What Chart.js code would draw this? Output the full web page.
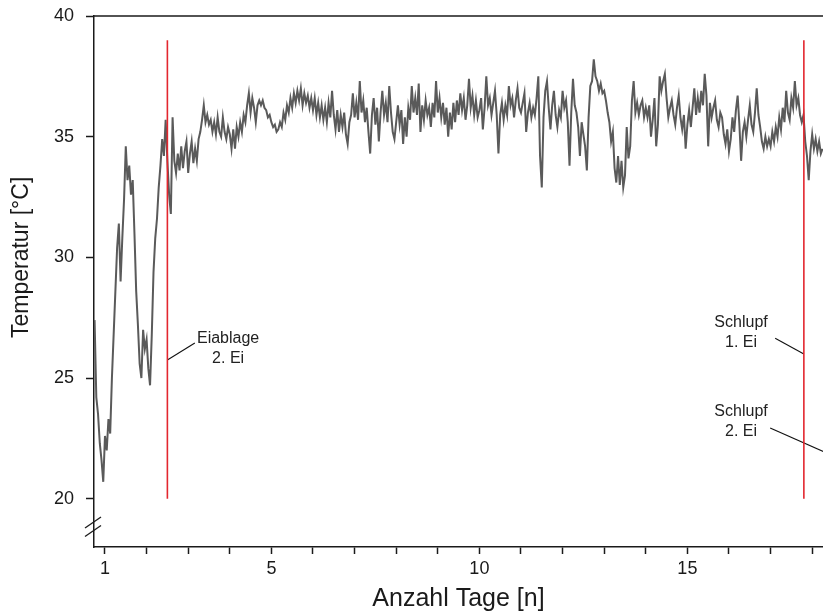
<!DOCTYPE html>
<html lang="de">
<head>
<meta charset="utf-8">
<title>Temperaturverlauf Nest</title>
<script src="https://cdn.jsdelivr.net/npm/chart.js@4.4.1/dist/chart.umd.min.js"></script>
<style>
  html, body { margin: 0; padding: 0; background: #fff; }
  canvas { display: block; }
</style>
</head>
<body>
<canvas id="tempChart" width="823" height="614"></canvas>
<script>
// Logger: ein Messwert pro Stunde, erster Wert bei Tag 0.75
const firstSampleDay = 0.75;
const samplesPerDay = 24;

// Temperatur [°C], eine Zeile pro Tag
const temperature = [
  27.4, 24.2, 23.5, 22.3, 21.6, 20.7,
  22.6, 22.0, 23.3, 22.7, 25.0, 26.8, 28.6, 30.4, 31.4, 29.0, 30.8, 32.4, 34.6, 33.2, 33.8, 32.6, 33.2, 31.0, 28.6, 27.2, 25.6, 25.0, 27.0, 26.2,
  26.6, 25.4, 24.7, 26.8, 29.4, 30.8, 31.6, 32.9, 33.8, 34.9, 34.2, 35.7, 34.0, 32.6, 31.8, 35.8, 34.0, 33.5, 34.3, 33.6, 34.6, 33.7, 34.4, 34.8,
  33.5, 34.3, 34.8, 33.9, 34.5, 34.0, 34.9, 35.2, 35.7, 36.3, 35.6, 35.9, 35.5, 35.7, 35.2, 35.6, 35.1, 35.8, 35.2, 35.0, 35.8, 35.2, 34.9, 35.4,
  35.1, 34.5, 35.3, 34.5, 35.4, 35.0, 35.6, 35.2, 35.9, 35.6, 36.3, 36.8, 36.0, 36.6, 36.2, 35.6, 36.3, 36.5, 36.3, 36.5, 36.2, 36.1, 35.8, 35.9,
  35.6, 35.4, 35.5, 35.2, 35.3, 35.6, 35.4, 36.0, 35.7, 36.3, 36.0, 36.6, 36.2, 36.8, 36.4, 36.9, 36.5, 37.0, 36.3, 36.8, 36.4, 36.7, 36.2, 36.6,
  36.1, 36.6, 35.9, 36.4, 35.8, 36.3, 35.7, 36.2, 35.6, 36.4, 35.8, 36.9, 35.9, 35.3, 36.1, 35.2, 35.9, 35.4, 36.0, 35.1, 34.7, 35.6, 35.9, 36.8,
  35.8, 36.4, 35.7, 37.3, 36.0, 36.5, 35.6, 36.2, 35.2, 34.3, 35.9, 36.6, 35.5, 36.2, 34.8, 36.0, 36.9, 35.9, 36.4, 35.6, 37.1, 36.0, 35.2, 34.9,
  35.6, 36.3, 35.5, 36.1, 34.7, 35.8, 35.0, 36.2, 35.7, 37.1, 36.0, 36.6, 35.9, 37.2, 35.2, 36.3, 35.7, 36.5, 35.9, 36.2, 35.4, 36.4, 35.8, 37.3,
  36.0, 36.6, 35.8, 36.4, 35.5, 36.2, 35.0, 36.0, 35.3, 36.4, 35.6, 36.5, 35.9, 36.8, 36.1, 36.6, 35.7, 36.3, 37.4, 36.2, 36.7, 35.9, 36.5, 35.8,
  36.1, 36.6, 35.3, 36.2, 37.5, 36.3, 36.6, 35.9, 36.4, 36.9, 35.9, 34.3, 35.9, 36.4, 35.7, 36.3, 35.9, 37.1, 36.3, 36.6, 35.8, 36.5, 37.0, 36.2,
  36.0, 36.4, 36.8, 35.2, 36.0, 36.4, 35.8, 36.2, 35.9, 36.6, 37.5, 34.2, 32.9, 35.8, 36.9, 37.3, 36.2, 35.3, 36.3, 36.9, 35.9, 35.4, 36.1, 35.8,
  36.9, 36.2, 36.5, 35.6, 33.8, 36.0, 37.4, 36.3, 36.0, 35.4, 34.2, 35.6, 35.1, 34.6, 33.6, 35.8, 37.1, 37.3, 38.2, 37.5, 37.3, 36.9, 37.2, 36.8,
  36.9, 36.5, 36.0, 35.6, 34.8, 35.2, 33.7, 33.1, 34.2, 33.0, 34.0, 32.9, 33.4, 35.4, 34.1, 34.6, 36.5, 37.3, 36.0, 36.4, 35.9, 36.3, 36.5, 35.8,
  36.2, 35.8, 36.3, 35.0, 35.7, 36.6, 34.6, 35.5, 37.5, 36.9, 37.3, 37.6, 36.6, 35.8, 36.2, 36.5, 35.9, 35.5, 36.2, 36.7, 35.8, 35.3, 35.9, 34.5,
  35.5, 36.1, 35.4, 36.2, 37.0, 35.9, 36.6, 36.0, 36.9, 36.3, 37.6, 36.7, 34.6, 36.4, 35.8, 36.2, 36.5, 35.7, 35.4, 36.0, 35.8, 35.1, 34.7, 35.3,
  34.4, 34.9, 35.8, 35.2, 36.1, 36.7, 35.5, 34.0, 35.2, 35.6, 35.0, 35.7, 36.3, 35.5, 35.2, 36.0, 37.0, 35.9, 35.4, 34.8, 34.5, 35.0, 34.6, 34.9,
  34.6, 35.2, 34.8, 35.4, 35.0, 35.8, 35.3, 36.2, 35.6, 36.9, 36.0, 35.7, 36.6, 36.2, 37.3, 36.3, 36.6, 35.9, 35.6, 35.9, 34.8, 34.2, 33.2, 34.4,
  35.1, 34.5, 34.9, 34.4, 34.8, 34.3, 34.5
];

const yTicks = [20, 25, 30, 35, 40];
const xTickDays = [1, 2, 3, 4, 5, 6, 7, 8, 9, 10, 11, 12, 13, 14, 15, 16, 17, 18];
const xLabelDays = [1, 5, 10, 15];

// Ereignisse (rote Linien) und Beschriftungen in Tag / °C
const eventDays = [2.5, 17.8];
const eventSpan = [20, 39];
const noteTexts = [['Eiablage', '2. Ei'], ['Schlupf', '1. Ei'], ['Schlupf', '2. Ei']];
const noteAt = [[3.96, 26.63], [16.29, 27.28], [16.29, 23.62]];
const leaderFrom = [[3.16, 26.45], [17.11, 26.65], [16.99, 22.93]];
const leaderTo = [[2.5, 25.75], [17.8, 26.0], [18.6, 21.7]];

const AXIS = '#1a1a1a';
const FONT = '"Liberation Sans", Arial, sans-serif';
Chart.defaults.font.family = FONT;
Chart.defaults.color = AXIS;

const points = temperature.map((t, i) => ({ x: firstSampleDay + i / samplesPerDay, y: t }));

const datasets = [];
eventDays.forEach(d => {
    datasets.push({ data: [{ x: d, y: eventSpan[0] }, { x: d, y: eventSpan[1] }], borderColor: '#e3262e', borderWidth: 1.6 });
});
leaderFrom.forEach((p, i) => {
    datasets.push({ data: [{ x: p[0], y: p[1] }, { x: leaderTo[i][0], y: leaderTo[i][1] }], borderColor: '#111', borderWidth: 1.1 });
});
datasets.push({ data: points, borderColor: '#5a5a5a', borderWidth: 2 });

// Rahmen oben, Achsenbruch, y-Titel (mittig über 20–40) und Textnotizen
const frameAndNotes = {
    id: 'frameAndNotes',
    afterDatasetsDraw(chart) {
        const { ctx, chartArea: a, scales: { x, y } } = chart;
        ctx.save();
        ctx.strokeStyle = AXIS;
        ctx.lineWidth = 1.5;
        ctx.beginPath();
        ctx.moveTo(a.left, a.top);
        ctx.lineTo(a.right, a.top);
        ctx.stroke();

        ctx.lineWidth = 1.3;
        [24.5, 16].forEach(off => {
            const by = a.bottom - off;
            ctx.beginPath();
            ctx.moveTo(a.left - 9, by + 5.5);
            ctx.lineTo(a.left + 7, by - 5.5);
            ctx.stroke();
        });

        const midY = (y.getPixelForValue(yTicks[0]) + y.getPixelForValue(yTicks[yTicks.length - 1])) / 2;
        ctx.save();
        ctx.translate(22, midY);
        ctx.rotate(-Math.PI / 2);
        ctx.font = '23px ' + FONT;
        ctx.fillStyle = AXIS;
        ctx.textAlign = 'center';
        ctx.textBaseline = 'middle';
        ctx.fillText('Temperatur [°C]', 0, 0);
        ctx.restore();

        ctx.font = '16px ' + FONT;
        ctx.fillStyle = '#222';
        ctx.textAlign = 'center';
        ctx.textBaseline = 'middle';
        noteTexts.forEach((lines, i) => {
            const px = x.getPixelForValue(noteAt[i][0]);
            const py = y.getPixelForValue(noteAt[i][1]);
            lines.forEach((t, j) => ctx.fillText(t, px, py + j * 20));
        });
        ctx.restore();
    }
};

new Chart(document.getElementById('tempChart'), {
    type: 'line',
    data: { datasets: datasets },
    plugins: [frameAndNotes],
    options: {
        responsive: false,
        animation: false,
        devicePixelRatio: 1,
        layout: { padding: { top: 16, right: 0, bottom: 0, left: 0 } },
        plugins: { legend: { display: false }, tooltip: { enabled: false } },
        elements: { point: { radius: 0 }, line: { tension: 0 } },
        scales: {
            x: {
                type: 'linear',
                min: 0.736,
                max: 18.26,
                afterFit: s => { s.height = 67; s.paddingLeft = 0; s.paddingRight = 0; },
                afterBuildTicks: s => { s.ticks = xTickDays.map(v => ({ value: v })); },
                grid: { drawOnChartArea: false, drawTicks: true, tickLength: 7, tickColor: AXIS, tickWidth: 1.5 },
                border: { display: true, color: AXIS, width: 1.5 },
                ticks: {
                    autoSkip: false, maxRotation: 0, padding: 4, font: { size: 18 },
                    callback: v => xLabelDays.includes(v) ? String(v) : ''
                },
                title: { display: true, text: 'Anzahl Tage [n]', font: { size: 25 }, padding: { top: 0, bottom: 0 } }
            },
            y: {
                type: 'linear',
                min: 18,
                max: 40,
                afterFit: s => { s.width = 94; s.paddingTop = 0; s.paddingBottom = 0; },
                afterBuildTicks: s => { s.ticks = yTicks.map(v => ({ value: v })); },
                grid: { drawOnChartArea: false, drawTicks: true, tickLength: 8, tickColor: AXIS, tickWidth: 1.5 },
                border: { display: true, color: AXIS, width: 1.5 },
                ticks: { padding: 12, font: { size: 18 } }
            }
        }
    }
});
</script>
</body>
</html>
